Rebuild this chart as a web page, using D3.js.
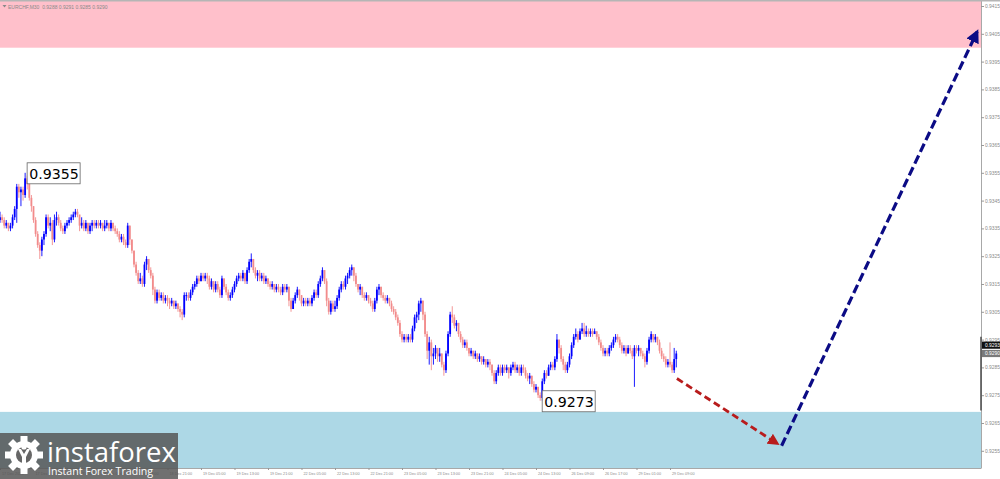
<!DOCTYPE html>
<html>
<head>
<meta charset="utf-8">
<script src="https://cdn.jsdelivr.net/npm/d3@7"></script>
<style>
  body { margin: 0; background: #fff; }
  svg { display: block; }
</style>
</head>
<body>
<div id="display"></div>
<script>
// EURCHF M30 bars, one value per bar (open = previous close)
var firstOpen = 0.9338;
var closes = [
  0.9339,0.9338,0.9336,0.9337,0.9335,0.9336,0.9339,0.9342,0.9350,0.9348,0.9349,0.9347,0.9353,0.9351,0.9346,0.9343,
  0.9338,0.9333,0.9329,0.9327,0.9331,0.9333,0.9339,0.9336,0.9337,0.9331,0.9338,0.9339,0.9337,0.9335,0.9334,0.9336,
  0.9337,0.9338,0.9339,0.9340,0.9341,0.9340,0.9336,0.9337,0.9335,0.9337,0.9334,0.9336,0.9337,0.9336,0.9337,0.9336,
  0.9337,0.9335,0.9336,0.9337,0.9335,0.9337,0.9335,0.9334,0.9333,0.9331,0.9332,0.9330,0.9329,0.9336,0.9331,0.9327,
  0.9322,0.9319,0.9316,0.9317,0.9315,0.9322,0.9324,0.9320,0.9318,0.9313,0.9309,0.9312,0.9310,0.9311,0.9309,0.9310,
  0.9309,0.9308,0.9309,0.9307,0.9308,0.9306,0.9305,0.9304,0.9311,0.9311,0.9310,0.9312,0.9314,0.9315,0.9317,0.9316,
  0.9318,0.9317,0.9318,0.9317,0.9314,0.9316,0.9313,0.9315,0.9313,0.9311,0.9317,0.9314,0.9312,0.9310,0.9311,0.9313,
  0.9315,0.9317,0.9318,0.9317,0.9319,0.9316,0.9320,0.9323,0.9324,0.9320,0.9318,0.9319,0.9317,0.9318,0.9316,0.9317,
  0.9315,0.9314,0.9315,0.9313,0.9314,0.9313,0.9312,0.9314,0.9313,0.9314,0.9309,0.9306,0.9309,0.9311,0.9313,0.9311,
  0.9308,0.9309,0.9308,0.9309,0.9308,0.9310,0.9312,0.9311,0.9315,0.9317,0.9320,0.9316,0.9309,0.9305,0.9308,0.9306,
  0.9307,0.9310,0.9313,0.9315,0.9314,0.9317,0.9318,0.9320,0.9321,0.9318,0.9315,0.9313,0.9314,0.9311,0.9310,0.9311,
  0.9309,0.9308,0.9306,0.9309,0.9313,0.9314,0.9311,0.9310,0.9309,0.9310,0.9308,0.9306,0.9305,0.9303,0.9301,0.9297,
  0.9295,0.9296,0.9295,0.9296,0.9295,0.9299,0.9303,0.9304,0.9308,0.9309,0.9304,0.9297,0.9291,0.9294,0.9289,0.9290,
  0.9292,0.9289,0.9290,0.9286,0.9284,0.9290,0.9297,0.9304,0.9303,0.9300,0.9301,0.9297,0.9295,0.9293,0.9294,0.9292,
  0.9290,0.9291,0.9289,0.9290,0.9288,0.9289,0.9287,0.9288,0.9286,0.9287,0.9286,0.9283,0.9280,0.9283,0.9285,0.9283,
  0.9285,0.9284,0.9285,0.9283,0.9285,0.9286,0.9284,0.9285,0.9283,0.9285,0.9284,0.9282,0.9281,0.9282,0.9279,0.9277,
  0.9278,0.9275,0.9274,0.9280,0.9283,0.9282,0.9285,0.9286,0.9285,0.9288,0.9295,0.9292,0.9288,0.9286,0.9284,0.9286,
  0.9289,0.9293,0.9296,0.9297,0.9295,0.9298,0.9299,0.9297,0.9298,0.9297,0.9298,0.9297,0.9298,0.9296,0.9294,0.9292,
  0.9290,0.9291,0.9290,0.9292,0.9293,0.9295,0.9296,0.9295,0.9293,0.9291,0.9292,0.9290,0.9292,0.9291,0.9289,0.9292,
  0.9291,0.9292,0.9290,0.9289,0.9287,0.9291,0.9295,0.9297,0.9295,0.9296,0.9294,0.9291,0.9289,0.9288,0.9286,0.9287,
  0.9286,0.9284,0.9288,0.9290
];
var highs = [
  0.9341,0.9340,0.9339,0.9338,0.9337,0.9337,0.9340,0.9343,0.9351,0.9351,0.9350,0.9350,0.9355,0.9354,0.9352,0.9347,
  0.9343,0.9339,0.9334,0.9330,0.9332,0.9334,0.9340,0.9340,0.9339,0.9338,0.9340,0.9341,0.9340,0.9338,0.9336,0.9337,
  0.9338,0.9339,0.9340,0.9341,0.9342,0.9342,0.9338,0.9339,0.9338,0.9338,0.9337,0.9337,0.9338,0.9338,0.9338,0.9338,
  0.9338,0.9337,0.9338,0.9338,0.9337,0.9338,0.9337,0.9336,0.9335,0.9334,0.9333,0.9333,0.9331,0.9337,0.9336,0.9331,
  0.9327,0.9323,0.9320,0.9319,0.9318,0.9323,0.9325,0.9324,0.9321,0.9319,0.9314,0.9313,0.9313,0.9312,0.9312,0.9311,
  0.9311,0.9310,0.9310,0.9309,0.9309,0.9308,0.9307,0.9306,0.9312,0.9312,0.9312,0.9313,0.9315,0.9316,0.9318,0.9318,
  0.9319,0.9319,0.9319,0.9319,0.9318,0.9317,0.9316,0.9316,0.9316,0.9314,0.9318,0.9317,0.9315,0.9313,0.9312,0.9314,
  0.9316,0.9318,0.9319,0.9319,0.9320,0.9319,0.9321,0.9324,0.9326,0.9324,0.9321,0.9320,0.9320,0.9319,0.9319,0.9318,
  0.9317,0.9316,0.9316,0.9315,0.9315,0.9315,0.9314,0.9315,0.9315,0.9315,0.9314,0.9310,0.9310,0.9312,0.9314,0.9313,
  0.9311,0.9310,0.9310,0.9310,0.9310,0.9311,0.9313,0.9313,0.9316,0.9318,0.9321,0.9320,0.9317,0.9310,0.9309,0.9309,
  0.9309,0.9311,0.9314,0.9316,0.9316,0.9318,0.9319,0.9321,0.9322,0.9321,0.9319,0.9315,0.9315,0.9314,0.9312,0.9312,
  0.9311,0.9310,0.9309,0.9310,0.9314,0.9315,0.9314,0.9312,0.9311,0.9311,0.9310,0.9309,0.9307,0.9306,0.9304,0.9302,
  0.9298,0.9297,0.9297,0.9297,0.9297,0.9300,0.9304,0.9305,0.9309,0.9310,0.9309,0.9305,0.9298,0.9296,0.9295,0.9292,
  0.9293,0.9292,0.9292,0.9290,0.9287,0.9291,0.9298,0.9305,0.9307,0.9304,0.9302,0.9301,0.9298,0.9296,0.9295,0.9295,
  0.9292,0.9292,0.9291,0.9291,0.9290,0.9290,0.9289,0.9289,0.9288,0.9288,0.9288,0.9286,0.9284,0.9284,0.9286,0.9286,
  0.9286,0.9286,0.9286,0.9285,0.9286,0.9287,0.9287,0.9286,0.9286,0.9286,0.9286,0.9285,0.9283,0.9283,0.9282,0.9280,
  0.9279,0.9278,0.9276,0.9281,0.9284,0.9284,0.9286,0.9287,0.9287,0.9289,0.9297,0.9295,0.9293,0.9289,0.9287,0.9287,
  0.9290,0.9294,0.9297,0.9299,0.9298,0.9299,0.9301,0.9301,0.9300,0.9299,0.9299,0.9299,0.9299,0.9298,0.9297,0.9295,
  0.9293,0.9292,0.9292,0.9293,0.9294,0.9296,0.9297,0.9297,0.9296,0.9294,0.9293,0.9293,0.9293,0.9293,0.9292,0.9293,
  0.9293,0.9293,0.9292,0.9291,0.9290,0.9292,0.9296,0.9298,0.9297,0.9297,0.9296,0.9295,0.9292,0.9290,0.9289,0.9288,
  0.9294,0.9287,0.9292,0.9291
];
var lows = [
  0.9337,0.9337,0.9335,0.9335,0.9334,0.9334,0.9335,0.9338,0.9337,0.9346,0.9343,0.9345,0.9346,0.9349,0.9345,0.9341,
  0.9337,0.9332,0.9328,0.9324,0.9325,0.9329,0.9332,0.9335,0.9334,0.9329,0.9330,0.9336,0.9336,0.9334,0.9333,0.9333,
  0.9335,0.9336,0.9337,0.9338,0.9339,0.9339,0.9334,0.9335,0.9334,0.9334,0.9333,0.9333,0.9334,0.9335,0.9335,0.9335,
  0.9335,0.9334,0.9334,0.9335,0.9334,0.9334,0.9334,0.9333,0.9332,0.9330,0.9330,0.9329,0.9328,0.9328,0.9329,0.9326,
  0.9321,0.9318,0.9315,0.9315,0.9314,0.9314,0.9320,0.9319,0.9317,0.9311,0.9308,0.9308,0.9309,0.9309,0.9308,0.9308,
  0.9307,0.9306,0.9307,0.9306,0.9306,0.9305,0.9303,0.9302,0.9303,0.9309,0.9309,0.9309,0.9311,0.9313,0.9314,0.9315,
  0.9316,0.9316,0.9316,0.9315,0.9313,0.9313,0.9312,0.9312,0.9312,0.9310,0.9310,0.9313,0.9311,0.9309,0.9309,0.9310,
  0.9312,0.9314,0.9316,0.9316,0.9316,0.9315,0.9315,0.9319,0.9321,0.9319,0.9317,0.9316,0.9316,0.9316,0.9315,0.9315,
  0.9314,0.9313,0.9313,0.9312,0.9312,0.9312,0.9311,0.9311,0.9312,0.9312,0.9307,0.9305,0.9306,0.9308,0.9310,0.9309,
  0.9307,0.9307,0.9307,0.9307,0.9307,0.9307,0.9309,0.9310,0.9310,0.9314,0.9316,0.9315,0.9307,0.9304,0.9304,0.9305,
  0.9305,0.9306,0.9309,0.9312,0.9313,0.9313,0.9315,0.9317,0.9318,0.9316,0.9314,0.9312,0.9311,0.9310,0.9309,0.9309,
  0.9308,0.9307,0.9305,0.9305,0.9308,0.9311,0.9310,0.9309,0.9308,0.9308,0.9307,0.9305,0.9304,0.9302,0.9300,0.9296,
  0.9294,0.9294,0.9294,0.9294,0.9294,0.9294,0.9298,0.9301,0.9302,0.9305,0.9302,0.9296,0.9288,0.9286,0.9284,0.9286,
  0.9288,0.9287,0.9287,0.9285,0.9282,0.9283,0.9289,0.9296,0.9301,0.9299,0.9298,0.9296,0.9294,0.9292,0.9292,0.9291,
  0.9289,0.9289,0.9288,0.9288,0.9287,0.9287,0.9286,0.9286,0.9285,0.9285,0.9284,0.9282,0.9279,0.9279,0.9282,0.9282,
  0.9282,0.9283,0.9283,0.9281,0.9282,0.9284,0.9283,0.9283,0.9282,0.9282,0.9283,0.9281,0.9280,0.9279,0.9278,0.9276,
  0.9276,0.9274,0.9273,0.9273,0.9279,0.9281,0.9282,0.9284,0.9284,0.9284,0.9287,0.9290,0.9287,0.9284,0.9283,0.9283,
  0.9285,0.9288,0.9292,0.9295,0.9294,0.9295,0.9297,0.9296,0.9296,0.9296,0.9296,0.9296,0.9297,0.9295,0.9293,0.9291,
  0.9289,0.9289,0.9289,0.9289,0.9291,0.9292,0.9294,0.9294,0.9292,0.9290,0.9290,0.9289,0.9290,0.9290,0.9288,0.9278,
  0.9290,0.9289,0.9289,0.9288,0.9285,0.9286,0.9290,0.9294,0.9294,0.9294,0.9293,0.9290,0.9288,0.9287,0.9285,0.9285,
  0.9285,0.9283,0.9283,0.9285
];

var timeLabels = ["17 Dec 2025","17 Dec 13:00","17 Dec 21:00","18 Dec 05:00","18 Dec 13:00","18 Dec 21:00",
  "19 Dec 05:00","19 Dec 13:00","19 Dec 21:00","22 Dec 05:00","22 Dec 13:00","22 Dec 21:00","23 Dec 05:00",
  "23 Dec 13:00","23 Dec 21:00","24 Dec 05:00","24 Dec 13:00","26 Dec 09:00","26 Dec 17:00","29 Dec 01:00","29 Dec 09:00"];
var barsPerLabel = 16;

var priceTicks = [0.9415,0.9405,0.9395,0.9385,0.9375,0.9365,0.9355,0.9345,0.9335,0.9325,0.9315,0.9305,0.9295,0.9285,0.9275,0.9265,0.9255];

var resistanceZone = [0.9400, 0.9420];
var supportZone = [0.9240, 0.9269];

var extremes = [{bar: 12, price: 0.9355}, {bar: 258, price: 0.9273}];

var forecastDown = [{bar: 323.3, price: 0.9281}, {bar: 371.4, price: 0.92575}];
var forecastUp = [{bar: 373.3, price: 0.92568}, {bar: 466.7, price: 0.94058}];

var bidPrice = 0.9293, lastPrice = 0.9290;
var title = "EURCHF,M30  0.9288 0.9291 0.9285 0.9290";

var colourBull = "#0000ff";
var colourBear = "#f28b8b";

var svg = d3.select("#display").append("svg")
    .attr("width", 1000)
    .attr("height", 479);

var width = 981, height = 468;

var x = d3.scaleLinear().domain([0, 320]).range([0, 670]);
var y = d3.scaleLinear().domain([0.924881, 0.941716]).range([height, 0]);

var defs = svg.append("defs");
defs.append("clipPath").attr("id", "plot")
  .append("rect").attr("width", width).attr("height", height);

function marker(id, colour) {
  defs.append("marker")
      .attr("id", id)
      .attr("viewBox", "0 0 10 10")
      .attr("refX", 8).attr("refY", 5)
      .attr("markerWidth", 4.2).attr("markerHeight", 4.2)
      .attr("markerUnits", "strokeWidth")
      .attr("orient", "auto")
    .append("path")
      .attr("d", "M0,0 L10,5 L0,10 Z")
      .attr("fill", colour);
}
marker("headRed", "#b81c1c");
marker("headBlue", "#0b0b85");

var plot = svg.append("g").attr("clip-path", "url(#plot)");

// zones
plot.append("rect")
    .attr("x", 0).attr("width", width)
    .attr("y", y(resistanceZone[1]))
    .attr("height", y(resistanceZone[0]) - y(resistanceZone[1]))
    .attr("fill", "#ffc0cb");
plot.append("rect")
    .attr("x", 0).attr("width", width)
    .attr("y", y(supportZone[1]))
    .attr("height", y(supportZone[0]) - y(supportZone[1]))
    .attr("fill", "#add8e6");

var bars = closes.map(function(c, i) {
  return {i: i, open: i == 0 ? firstOpen : closes[i - 1], close: c, high: highs[i], low: lows[i]};
});

var bar = plot.append("g").selectAll("g")
  .data(bars)
  .enter().append("g");

bar.append("line")
    .attr("x1", function(d) { return x(d.i); })
    .attr("x2", function(d) { return x(d.i); })
    .attr("y1", function(d) { return y(d.high); })
    .attr("y2", function(d) { return y(d.low); })
    .attr("stroke", function(d) { return d.close >= d.open ? colourBull : colourBear; })
    .attr("stroke-width", 0.9);

bar.append("rect")
    .attr("x", function(d) { return x(d.i) - 0.9; })
    .attr("width", 1.8)
    .attr("y", function(d) { return y(Math.max(d.open, d.close)); })
    .attr("height", function(d) { return Math.max(1, Math.abs(y(d.open) - y(d.close))); })
    .attr("fill", function(d) { return d.close >= d.open ? colourBull : colourBear; });

// forecast arrows
function arrow(pts, colour, head, dash, w) {
  plot.append("line")
      .attr("x1", x(pts[0].bar)).attr("y1", y(pts[0].price))
      .attr("x2", x(pts[1].bar)).attr("y2", y(pts[1].price))
      .attr("stroke", colour)
      .attr("stroke-width", w)
      .attr("stroke-dasharray", dash)
      .attr("marker-end", "url(#" + head + ")");
}
arrow(forecastDown, "#b81c1c", "headRed", "7,4", 2.8);
arrow(forecastUp, "#0b0b85", "headBlue", "9,4", 3.2);

// extreme labels
var ext = svg.append("g").selectAll("g")
  .data(extremes)
  .enter().append("g")
    .attr("transform", function(d) { return "translate(" + (x(d.bar) + 2) + "," + (y(d.price) - 10) + ")"; });
ext.append("rect")
    .attr("width", 53).attr("height", 21)
    .attr("fill", "#fff")
    .attr("stroke", "#666")
    .attr("stroke-width", 0.8);
ext.append("text")
    .attr("x", 2).attr("y", 16)
    .attr("font-family", "DejaVu Sans")
    .attr("font-size", 14.2)
    .attr("fill", "#000")
    .text(function(d) { return d.price.toFixed(4); });

// right price axis
var yAxis = svg.append("g")
    .attr("transform", "translate(" + width + ",0)")
    .call(d3.axisRight(y).tickValues(priceTicks).tickSize(3).tickSizeOuter(0).tickFormat(d3.format(".4f")));
yAxis.select(".domain").attr("stroke", "#a8a8a8");
yAxis.selectAll(".tick line").attr("stroke", "#999");
yAxis.selectAll(".tick text")
    .attr("x", 4)
    .attr("fill", "#8a8a8a")
    .attr("font-family", "Liberation Sans")
    .attr("font-size", 4.9);

svg.append("line")
    .attr("x1", width).attr("x2", width)
    .attr("y1", y(0.9296)).attr("y2", y(0.92695))
    .attr("stroke", "#555").attr("stroke-width", 1.6);

[[bidPrice, "#111"], [lastPrice, "#7a7a7a"]].forEach(function(p) {
  svg.append("rect")
      .attr("x", width + 1).attr("width", 19)
      .attr("y", y(p[0]) - 3.6).attr("height", 7.2)
      .attr("fill", p[1]);
  svg.append("text")
      .attr("x", width + 4).attr("y", y(p[0]) + 1.8)
      .attr("fill", "#fff")
      .attr("font-family", "Liberation Sans")
      .attr("font-size", 4.9)
      .text(d3.format(".4f")(p[0]));
});

// bottom time axis
var xAxis = svg.append("g")
    .attr("transform", "translate(0," + height + ")")
    .call(d3.axisBottom(x)
      .tickValues(timeLabels.map(function(d, i) { return i * barsPerLabel; }))
      .tickFormat(function(d) { return timeLabels[d / barsPerLabel]; })
      .tickSize(2).tickSizeOuter(0));
xAxis.select(".domain").attr("stroke", "#a8a8a8").attr("d", "M0,0.5H" + width);
xAxis.selectAll(".tick line").attr("stroke", "#999");
xAxis.selectAll(".tick text")
    .attr("text-anchor", "start")
    .attr("x", 1.5).attr("y", 4).attr("dy", "0.71em")
    .attr("fill", "#8a8a8a")
    .attr("font-family", "Liberation Sans")
    .attr("font-size", 3.8);

// top frame and title
svg.append("rect").attr("width", 1000).attr("height", 1.5).attr("fill", "#b5b5b5");
svg.append("path").attr("d", "M2.5,5 L6.5,5 L4.5,7.5 Z").attr("fill", "#888");
svg.append("text")
    .attr("x", 8).attr("y", 8.5)
    .attr("fill", "#8a8a8a")
    .attr("font-family", "Liberation Sans")
    .attr("font-size", 5)
    .attr("xml:space", "preserve")
    .text(title);

// logo
var logo = svg.append("g").attr("transform", "translate(0,433)");
logo.append("rect").attr("width", 178).attr("height", 46).attr("fill", "#555").attr("opacity", 0.84);
var gear = logo.append("g").attr("transform", "translate(24,22)");
gear.append("circle").attr("r", 14).attr("fill", "#fff");
d3.range(8).forEach(function(k) {
  gear.append("rect")
      .attr("x", -3.5).attr("y", -19).attr("width", 7).attr("height", 7)
      .attr("fill", "#fff")
      .attr("transform", "rotate(" + (k * 45) + ")");
});
gear.append("circle").attr("r", 8).attr("fill", "#666");
gear.append("path")
    .attr("d", "M-6,-6 L-2,2 L-2,12 L2,12 L2,2 L6,-6 L3,-6 L0,-1 L-3,-6 Z")
    .attr("fill", "#fff");
gear.append("circle").attr("cx", 0).attr("cy", -8).attr("r", 2.6).attr("fill", "#fff");
logo.append("text")
    .attr("x", 47).attr("y", 29)
    .attr("fill", "#fff")
    .attr("font-family", "Open Sans")
    .attr("font-size", 27.5)
    .text("instaforex");
logo.append("text")
    .attr("x", 48).attr("y", 42)
    .attr("fill", "#fff")
    .attr("font-family", "Open Sans")
    .attr("font-size", 10.6)
    .text("Instant Forex Trading");
</script>
</body>
</html>
